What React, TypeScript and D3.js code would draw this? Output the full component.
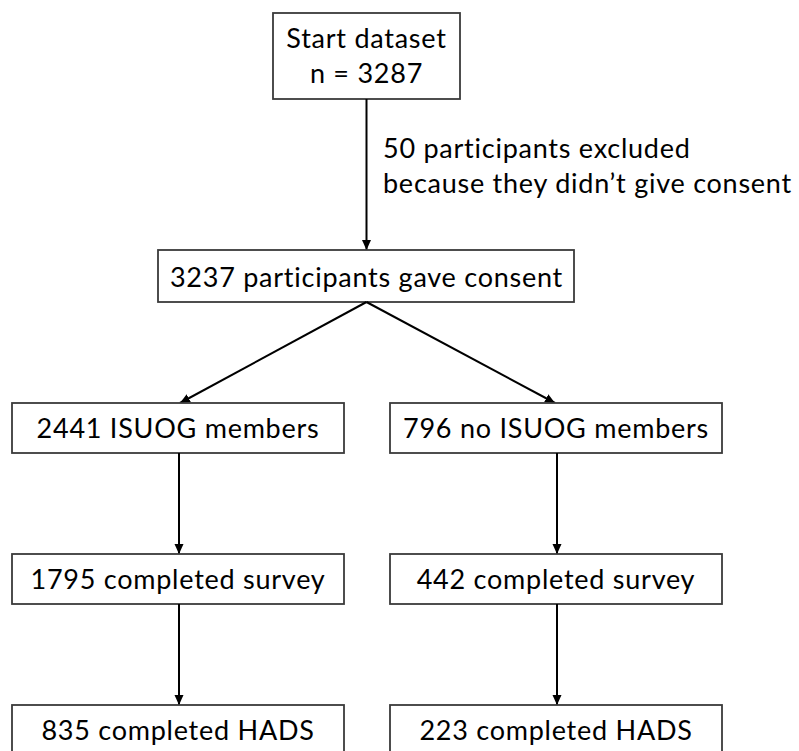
import React, { useEffect, useRef } from "react";
import * as d3 from "d3";

// ---- data ----
const startLines = ["Start dataset", "n = 3287"];
const consentLabel = "3237 participants gave consent";
const exclusionLines = ["50 participants excluded", "because they didn\u2019t give consent"];
const leftColumn = ["2441 ISUOG members", "1795 completed survey", "835 completed HADS"];
const rightColumn = ["796 no ISUOG members", "442 completed survey", "223 completed HADS"];

// ---- layout ----
const W = 799;
const H = 751;
const FONT = "Lato, 'Open Sans', sans-serif";
const FS = 27;
const LS = 0.75;

export default function App() {
  const ref = useRef<SVGSVGElement | null>(null);

  useEffect(() => {
    const svg = d3.select(ref.current);
    svg.selectAll("*").remove();

    const defs = svg.append("defs");
    defs
      .append("marker")
      .attr("id", "arr")
      .attr("viewBox", "0 0 10 10")
      .attr("refX", 10)
      .attr("refY", 5)
      .attr("markerWidth", 10)
      .attr("markerHeight", 10)
      .attr("markerUnits", "userSpaceOnUse")
      .attr("orient", "auto")
      .append("path")
      .attr("d", "M0,0.5 L10,5 L0,9.5 Z")
      .attr("fill", "#000");

    const colX = d3.scaleOrdinal<string, number>().domain(["left", "right"]).range([178, 556]);
    const colW = 332;
    const rowTop = d3.scaleOrdinal<number, number>().domain([0, 1, 2]).range([403, 554, 705]);
    const rowH = 50;
    const cx = 366.5;

    const boxStroke = "#3a3a3a";
    const g = svg.append("g");

    const drawBox = (x0: number, y0: number, w: number, h: number) =>
      g
        .append("rect")
        .attr("x", x0)
        .attr("y", y0)
        .attr("width", w)
        .attr("height", h)
        .attr("fill", "#fff")
        .attr("stroke", boxStroke)
        .attr("stroke-width", 1.8);

    const drawText = (x: number, y: number, t: string, anchor = "middle") =>
      g
        .append("text")
        .attr("x", x)
        .attr("y", y)
        .attr("text-anchor", anchor)
        .attr("font-family", FONT)
        .attr("font-size", FS)
        .attr("letter-spacing", LS)
        .attr("fill", "#000")
        .text(t);

    const drawArrow = (x1: number, y1: number, x2: number, y2: number) =>
      g
        .append("line")
        .attr("x1", x1)
        .attr("y1", y1)
        .attr("x2", x2)
        .attr("y2", y2)
        .attr("stroke", "#000")
        .attr("stroke-width", 2)
        .attr("marker-end", "url(#arr)");

    const startTop = 13, startBottom = 99;
    drawBox(273, startTop, 187, startBottom - startTop);
    startLines.forEach((t, i) => drawText(cx, 48 + i * 35, t));

    const consentTop = 250, consentBottom = 302;
    drawArrow(cx, startBottom, cx, consentTop);
    drawBox(158, consentTop, 416, consentBottom - consentTop);
    drawText(cx, 287, consentLabel);

    exclusionLines.forEach((t, i) => drawText(383, 158 + i * 35, t, "start"));

    drawArrow(cx, consentBottom, colX("left") + 2, rowTop(0));
    drawArrow(cx, consentBottom, colX("right") - 1, rowTop(0));

    const cols: [string, string[]][] = [["left", leftColumn], ["right", rightColumn]];
    cols.forEach(([col, labels]) => {
      const x = colX(col);
      labels.forEach((lab, i) => {
        const top = rowTop(i);
        drawBox(x - colW / 2, top, colW, rowH);
        drawText(x, top + 35, lab);
        if (i < labels.length - 1) {
          drawArrow(x + 1, top + rowH, x + 1, rowTop(i + 1));
        }
      });
    });
  }, []);

  return (
    <div style={{ position: "absolute", left: 0, top: 0 }}>
      <svg ref={ref} width={W} height={H} style={{ display: "block", background: "#fff" }} />
    </div>
  );
}
